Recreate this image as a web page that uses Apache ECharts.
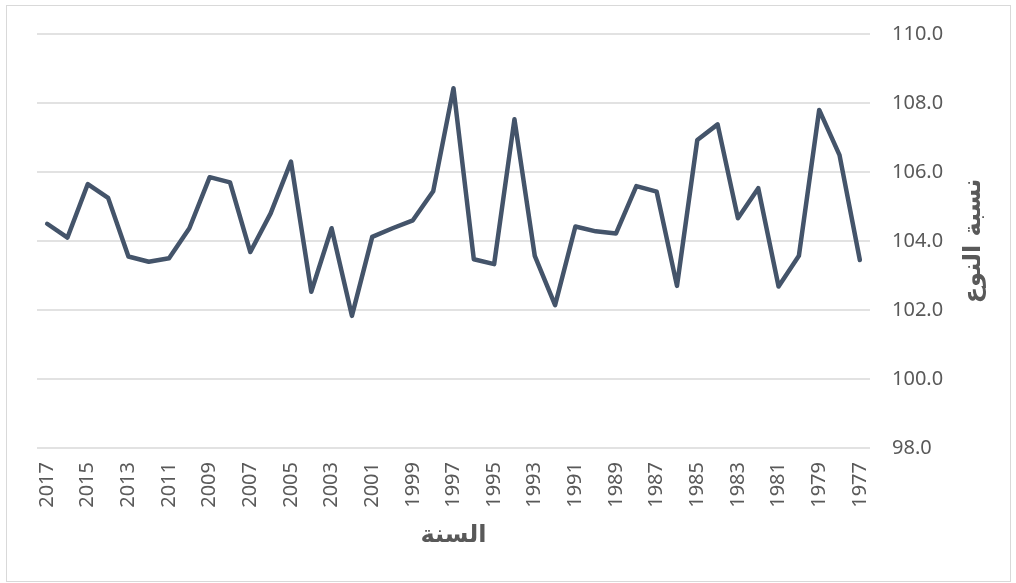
<!DOCTYPE html>
<html>
<head>
    <meta charset="utf-8"/>
    <title>نسبة النوع</title>
    <script src="https://cdn.jsdelivr.net/npm/echarts@6/dist/echarts.min.js"></script>
    <style>
        html, body { margin: 0; padding: 0; background: #fff; }
        #frame { position: absolute; left: 6px; top: 5px; width: 1003px; height: 575px; border: 1.5px solid #d9d9d9; }
        #myChart { position: absolute; left: 0; top: 0; width: 1016px; height: 583px; }
    </style>
</head>
<body>
    <div id="frame"></div>
    <div id="myChart"></div>
<script type="text/javascript">
    // السنوات من 2017 إلى 1977
    var years = ['2017','2016','2015','2014','2013','2012','2011','2010','2009','2008',
                 '2007','2006','2005','2004','2003','2002','2001','2000','1999','1998',
                 '1997','1996','1995','1994','1993','1992','1991','1990','1989','1988',
                 '1987','1986','1985','1984','1983','1982','1981','1980','1979','1978','1977'];
    var ratio = [104.5, 104.1, 105.65, 105.25, 103.55, 103.4, 103.5, 104.37, 105.85, 105.7,
                 103.68, 104.8, 106.3, 102.53, 104.37, 101.83, 104.12, 104.37, 104.6, 105.44,
                 108.43, 103.47, 103.33, 107.53, 103.57, 102.14, 104.42, 104.28, 104.22, 105.59,
                 105.43, 102.7, 106.93, 107.38, 104.66, 105.53, 102.68, 103.57, 107.8, 106.49, 103.45];
    var yMin = 98, yMax = 110, yStep = 2;

    var myChart = echarts.init(document.getElementById('myChart'));
    var option = {
        animation: false,
        grid: { left: 37, right: 146, top: 34, bottom: 135 },
        xAxis: {
            type: 'category',
            data: years,
            boundaryGap: true,
            name: 'السنة',
            nameLocation: 'middle',
            nameGap: 76,
            nameTextStyle: { fontFamily: 'DejaVu Sans', fontWeight: 'bold', fontSize: 24, color: '#595959' },
            axisLine: { show: false },
            axisTick: { show: false },
            axisLabel: {
                interval: 1,
                rotate: 90,
                margin: 14,
                fontFamily: 'Noto Sans',
                fontSize: 20,
                color: '#595959'
            }
        },
        yAxis: {
            type: 'value',
            position: 'right',
            min: yMin,
            max: yMax,
            interval: yStep,
            name: 'نسبة النوع',
            nameLocation: 'middle',
            nameRotate: 90,
            nameGap: 92,
            nameTextStyle: { fontFamily: 'DejaVu Sans', fontWeight: 'bold', fontSize: 24, color: '#595959' },
            axisLine: { show: false },
            axisTick: { show: false },
            splitLine: { lineStyle: { color: '#d9d9d9', width: 1.5 } },
            axisLabel: {
                margin: 22,
                fontFamily: 'Noto Sans',
                fontSize: 20,
                color: '#595959',
                formatter: function (v) { return v.toFixed(1); }
            }
        },
        series: [{
            type: 'line',
            data: ratio,
            symbol: 'none',
            lineStyle: { color: '#44546a', width: 4.5, join: 'round', cap: 'round' }
        }]
    };
    myChart.setOption(option);
</script>
</body>
</html>
